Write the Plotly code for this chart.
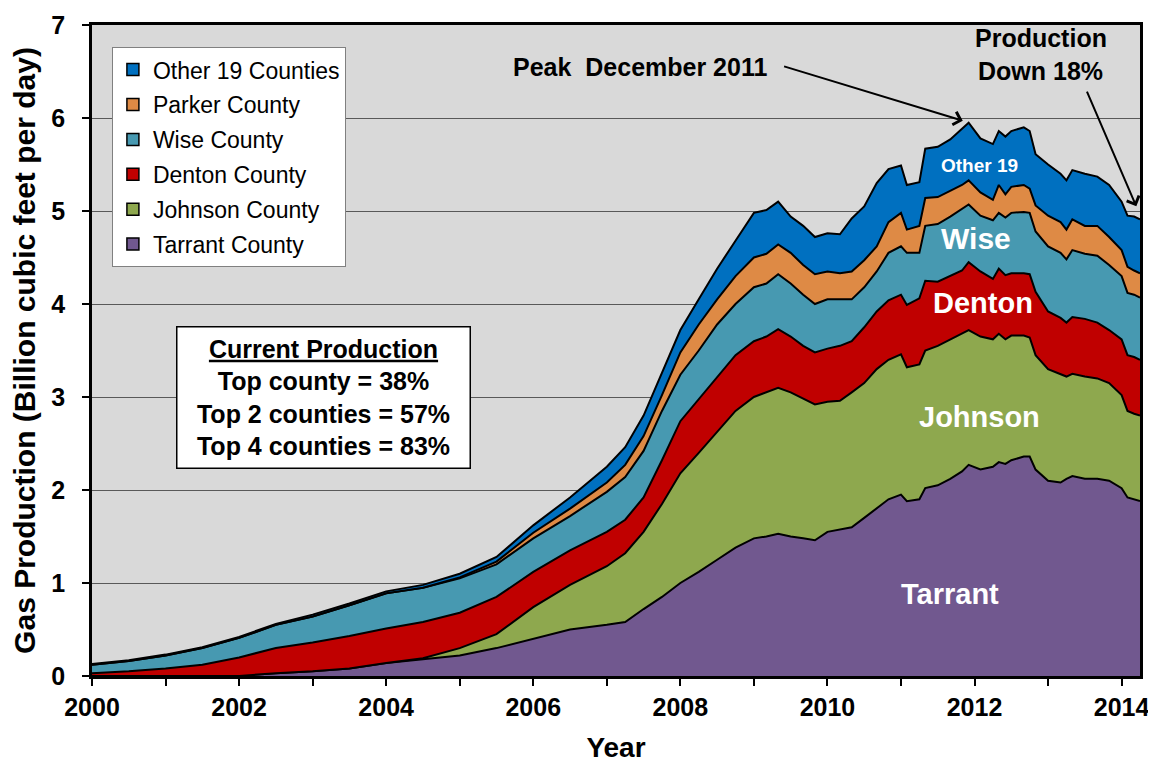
import plotly.graph_objects as go

# ---------------- data (billion cubic feet per day) ----------------
years = [2000.0, 2000.5, 2001.0, 2001.5, 2002.0, 2002.5, 2003.0, 2003.5, 2004.0, 2004.5,
         2005.0, 2005.5, 2006.0, 2006.5, 2007.0, 2007.25, 2007.5, 2007.75, 2008.0, 2008.25,
         2008.5, 2008.75, 2009.0, 2009.17, 2009.33, 2009.5, 2009.67, 2009.83, 2010.0, 2010.17,
         2010.33, 2010.5, 2010.67, 2010.83, 2011.0, 2011.08, 2011.25, 2011.33, 2011.5, 2011.67,
         2011.83, 2011.92, 2012.08, 2012.25, 2012.33, 2012.42, 2012.5, 2012.67, 2012.75, 2012.83,
         2013.0, 2013.17, 2013.25, 2013.33, 2013.5, 2013.67, 2013.83, 2014.0, 2014.08, 2014.17,
         2014.25]

tarrant = [0, 0, 0, 0, 0, 0.03, 0.05, 0.08, 0.14, 0.18,
           0.22, 0.30, 0.40, 0.50, 0.55, 0.58, 0.72, 0.85, 1.00, 1.12,
           1.25, 1.38, 1.48, 1.50, 1.53, 1.50, 1.48, 1.46, 1.55, 1.58,
           1.60, 1.70, 1.80, 1.90, 1.95, 1.88, 1.90, 2.02, 2.05, 2.12,
           2.20, 2.27, 2.22, 2.25, 2.30, 2.28, 2.32, 2.36, 2.36, 2.22,
           2.10, 2.08, 2.12, 2.15, 2.12, 2.12, 2.10, 2.02, 1.92, 1.90,
           1.88]

johnson = [0, 0, 0, 0, 0, 0, 0, 0, 0, 0.01,
           0.08, 0.15, 0.34, 0.48, 0.63, 0.74, 0.83, 1.00, 1.18, 1.28,
           1.37, 1.47, 1.52, 1.55, 1.57, 1.55, 1.50, 1.46, 1.40, 1.38,
           1.45, 1.45, 1.50, 1.50, 1.51, 1.44, 1.45, 1.48, 1.50, 1.50,
           1.48, 1.45, 1.43, 1.37, 1.38, 1.34, 1.34, 1.30, 1.28, 1.23,
           1.20, 1.17, 1.10, 1.10, 1.10, 1.08, 1.05, 1.00, 0.93, 0.92,
           0.92]

denton = [0.03, 0.05, 0.08, 0.12, 0.20, 0.27, 0.31, 0.35, 0.37, 0.39,
          0.38, 0.40, 0.38, 0.37, 0.37, 0.36, 0.37, 0.47, 0.56, 0.58,
          0.60, 0.60, 0.60, 0.60, 0.63, 0.60, 0.57, 0.56, 0.57, 0.59,
          0.55, 0.60, 0.62, 0.64, 0.64, 0.67, 0.71, 0.75, 0.69, 0.68,
          0.68, 0.73, 0.70, 0.65, 0.70, 0.69, 0.67, 0.67, 0.68, 0.68,
          0.62, 0.60, 0.58, 0.61, 0.62, 0.60, 0.57, 0.60, 0.60, 0.61,
          0.60]

wise = [0.09, 0.11, 0.14, 0.18, 0.21, 0.25, 0.28, 0.33, 0.38, 0.37,
        0.37, 0.35, 0.36, 0.37, 0.43, 0.46, 0.50, 0.53, 0.50, 0.52,
        0.56, 0.55, 0.58, 0.57, 0.59, 0.57, 0.55, 0.52, 0.53, 0.50,
        0.45, 0.43, 0.43, 0.51, 0.52, 0.56, 0.49, 0.59, 0.62, 0.64,
        0.66, 0.62, 0.60, 0.63, 0.60, 0.62, 0.65, 0.66, 0.66, 0.65,
        0.70, 0.70, 0.68, 0.72, 0.70, 0.72, 0.70, 0.68, 0.67, 0.67,
        0.67]

parker = [0, 0, 0, 0, 0, 0, 0, 0, 0, 0,
          0.01, 0.03, 0.06, 0.08, 0.10, 0.13, 0.16, 0.17, 0.24, 0.28,
          0.27, 0.30, 0.32, 0.32, 0.32, 0.33, 0.32, 0.32, 0.30, 0.28,
          0.30, 0.29, 0.27, 0.33, 0.36, 0.25, 0.29, 0.30, 0.29, 0.28,
          0.26, 0.26, 0.25, 0.22, 0.30, 0.25, 0.28, 0.29, 0.26, 0.28,
          0.33, 0.33, 0.32, 0.33, 0.30, 0.32, 0.30, 0.28, 0.28, 0.26,
          0.26]

other19 = [0.01, 0.01, 0.01, 0.01, 0.01, 0.01, 0.02, 0.02, 0.02, 0.03,
           0.04, 0.05, 0.08, 0.12, 0.17, 0.19, 0.22, 0.23, 0.24, 0.27,
           0.33, 0.38, 0.48, 0.47, 0.46, 0.39, 0.42, 0.40, 0.41, 0.42,
           0.57, 0.58, 0.68, 0.57, 0.51, 0.48, 0.47, 0.53, 0.54, 0.55,
           0.60, 0.62, 0.58, 0.60, 0.58, 0.62, 0.60, 0.62, 0.62, 0.55,
           0.55, 0.52, 0.53, 0.53, 0.56, 0.53, 0.56, 0.52, 0.55, 0.58,
           0.58]

series_names = ["Tarrant County", "Johnson County", "Denton County",
                "Wise County", "Parker County", "Other 19 Counties"]
series_values = [tarrant, johnson, denton, wise, parker, other19]
series_colors = ["#71588F", "#8EA84E", "#C00000", "#4799B1", "#DE8A45", "#0070C0"]

x_tick_vals = [2000, 2002, 2004, 2006, 2008, 2010, 2012, 2014]
y_tick_vals = [0, 1, 2, 3, 4, 5, 6, 7]

FONT = "Liberation Sans, Arial, sans-serif"

fig = go.Figure()

for name, vals, col in zip(series_names, series_values, series_colors):
    fig.add_trace(go.Scatter(
        x=years, y=vals, name=name, mode="lines", stackgroup="one",
        line=dict(color="black", width=2), fillcolor=col,
        showlegend=False, hoverinfo="skip"))

# legend entries (square swatches), top of stack listed first
for name, col in reversed(list(zip(series_names, series_colors))):
    fig.add_trace(go.Bar(x=[None], y=[None], name=name, legendgroup=name,
                         marker=dict(color=col, line=dict(color="black", width=1.5))))

ann = []
def label(text, x, y, size, color="black"):
    ann.append(dict(x=x, y=y, xref="x", yref="y", text=f"<b>{text}</b>", showarrow=False,
                    font=dict(family=FONT, size=size, color=color),
                    xanchor="center", yanchor="middle"))

label("Other 19", 2012.07, 5.49, 19, "white")
label("Wise", 2012.02, 4.70, 30, "white")
label("Denton", 2012.11, 4.01, 29, "white")
label("Johnson", 2012.07, 2.78, 29, "white")
label("Tarrant", 2011.66, 0.88, 29, "white")
label("Peak  December 2011", 2007.45, 6.55, 25)
label("Production", 2012.90, 6.86, 25)
label("Down 18%", 2012.90, 6.51, 25)

for (hx, hy, tx, ty) in [(2011.84, 5.97, 2009.39, 6.56), (2014.2, 5.05, 2013.52, 6.30)]:
    ann.append(dict(x=hx, y=hy, xref="x", yref="y", ax=tx, ay=ty, axref="x", ayref="y",
                    text="", showarrow=True, arrowhead=4, arrowsize=1.3, arrowwidth=2,
                    arrowcolor="black", standoff=0, startstandoff=0))

ann.append(dict(
    x=2003.15, y=3.0, xref="x", yref="y", showarrow=False,
    text=("<b><span style='text-decoration:underline'>Current Production</span><br>"
          "Top county = 38%<br>Top 2 counties = 57%<br>Top 4 counties = 83%</b>"),
    font=dict(family=FONT, size=25, color="black"),
    bgcolor="white", bordercolor="black", borderwidth=1.5, borderpad=2,
    width=288, height=136, align="center", valign="middle"))

# the page body adds an 8px offset, so the figure is 8px smaller and margins compensate
fig.update_layout(
    width=1148, height=757,
    margin=dict(l=84, r=16, t=17, b=89, autoexpand=False),
    paper_bgcolor="white", plot_bgcolor="#D9D9D9",
    font=dict(family=FONT, color="black"),
    annotations=ann,
    showlegend=True,
    legend=dict(x=0.019, y=0.966, xanchor="left", yanchor="top",
                bgcolor="white", bordercolor="#808080", borderwidth=1,
                font=dict(family=FONT, size=23, color="black"),
                traceorder="grouped", tracegroupgap=2, itemwidth=30),
    xaxis=dict(range=[2000, 2014.25], tickvals=x_tick_vals, tickformat="d",
               automargin=False, ticklabeloverflow="allow",
               ticks="outside", ticklen=7, tickwidth=2, tickcolor="black",
               showline=True, linecolor="black", linewidth=2.5, mirror=True,
               showgrid=False, zeroline=False,
               tickfont=dict(family=FONT, size=25, weight="bold"),
               minor=dict(dtick=1, tick0=2000, ticks="outside", ticklen=7,
                          tickwidth=2, tickcolor="black", showgrid=False),
               title=dict(text="Year", standoff=18,
                          font=dict(family=FONT, size=28, weight="bold"))),
    yaxis=dict(range=[0, 7], tickvals=y_tick_vals,
               automargin=False, ticklabeloverflow="allow",
               ticks="outside", ticklen=7, tickwidth=2, tickcolor="black",
               showline=True, linecolor="black", linewidth=2.5, mirror=True,
               showgrid=True, gridcolor="#595959", gridwidth=1, zeroline=False,
               ticklabelstandoff=12,
               tickfont=dict(family=FONT, size=25, weight="bold"),
               title=dict(text="Gas Production (Billion cubic feet per day)", standoff=12,
                          font=dict(family=FONT, size=30, weight="bold"))),
)

fig.write_html("out.html")
